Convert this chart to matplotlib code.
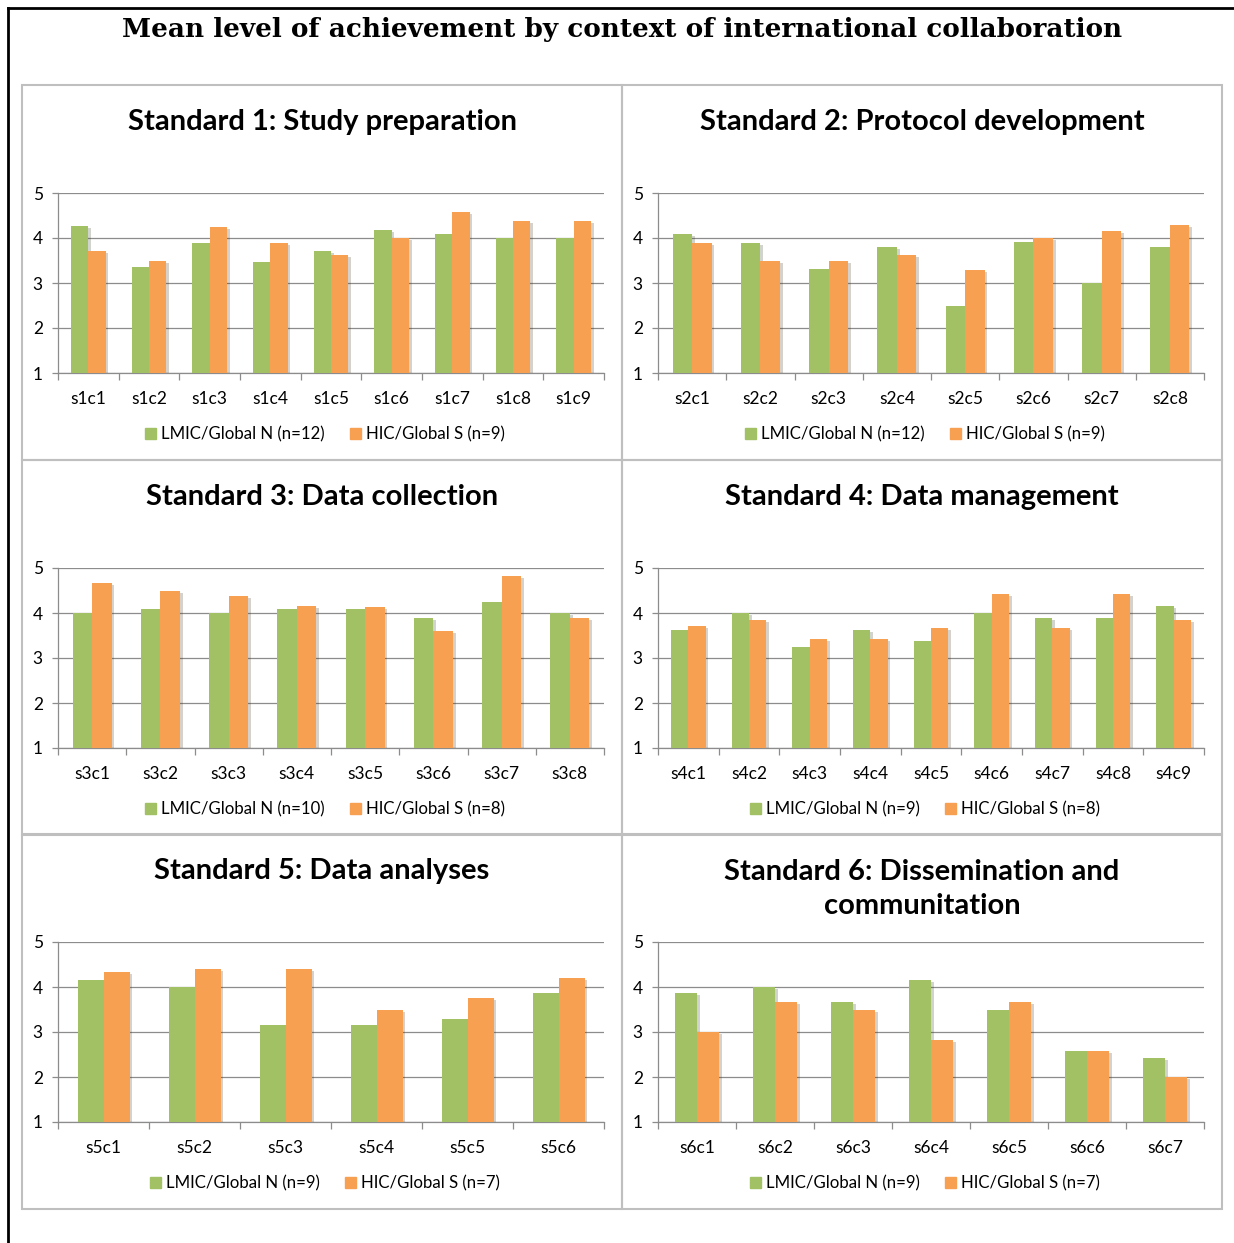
import matplotlib
matplotlib.use("Agg")
import matplotlib.pyplot as plt
import numpy as np
from matplotlib import patheffects
from matplotlib.lines import Line2D
from matplotlib.patches import Rectangle

# colours (Office 2007 palette, a touch lighter)
GREEN = '#A2C064'
ORANGE = '#F8A052'
GRID = '#8c8c8c'

main_title = 'Mean level of achievement by context of international collaboration'

titles = [
    'Standard 1: Study preparation',
    'Standard 2: Protocol development',
    'Standard 3: Data collection',
    'Standard 4: Data management',
    'Standard 5: Data analyses',
    'Standard 6: Dissemination and\ncommunitation',
]

cats_s1 = ['s1c1', 's1c2', 's1c3', 's1c4', 's1c5', 's1c6', 's1c7', 's1c8', 's1c9']
lmic_s1 = [4.27, 3.36, 3.90, 3.46, 3.72, 4.18, 4.09, 4.00, 4.00]
hic_s1 = [3.71, 3.50, 4.24, 3.88, 3.62, 4.00, 4.57, 4.37, 4.37]

cats_s2 = ['s2c1', 's2c2', 's2c3', 's2c4', 's2c5', 's2c6', 's2c7', 's2c8']
lmic_s2 = [4.10, 3.90, 3.31, 3.80, 2.50, 3.91, 3.01, 3.80]
hic_s2 = [3.89, 3.50, 3.50, 3.63, 3.30, 4.00, 4.15, 4.30]

cats_s3 = ['s3c1', 's3c2', 's3c3', 's3c4', 's3c5', 's3c6', 's3c7', 's3c8']
lmic_s3 = [4.00, 4.10, 4.00, 4.10, 4.10, 3.88, 4.25, 4.00]
hic_s3 = [4.67, 4.50, 4.375, 4.15, 4.13, 3.60, 4.83, 3.88]

cats_s4 = ['s4c1', 's4c2', 's4c3', 's4c4', 's4c5', 's4c6', 's4c7', 's4c8', 's4c9']
lmic_s4 = [3.63, 4.00, 3.25, 3.63, 3.37, 4.00, 3.88, 3.88, 4.15]
hic_s4 = [3.71, 3.84, 3.43, 3.43, 3.67, 4.43, 3.67, 4.43, 3.84]

cats_s5 = ['s5c1', 's5c2', 's5c3', 's5c4', 's5c5', 's5c6']
lmic_s5 = [4.16, 4.00, 3.16, 3.15, 3.29, 3.86]
hic_s5 = [4.34, 4.41, 4.41, 3.50, 3.75, 4.21]

cats_s6 = ['s6c1', 's6c2', 's6c3', 's6c4', 's6c5', 's6c6', 's6c7']
lmic_s6 = [3.86, 4.00, 3.67, 4.15, 3.49, 2.57, 2.43]
hic_s6 = [3.00, 3.67, 3.50, 2.83, 3.67, 2.58, 2.00]

n_lmic = [12, 12, 10, 9, 9, 9]
n_hic = [9, 9, 8, 8, 7, 7]

panels = [
    (cats_s1, lmic_s1, hic_s1),
    (cats_s2, lmic_s2, hic_s2),
    (cats_s3, lmic_s3, hic_s3),
    (cats_s4, lmic_s4, hic_s4),
    (cats_s5, lmic_s5, hic_s5),
    (cats_s6, lmic_s6, hic_s6),
]

W, H = 1234, 1243
fig = plt.figure(figsize=(W / 100, H / 100), dpi=100)
plt.rcParams['font.family'] = ['Lato', 'DejaVu Sans']


def fx(x):
    return x / W


def fy(y):
    return 1 - y / H


# outer frame (left and top only)
fig.add_artist(Line2D([fx(8), fx(8)], [fy(8), fy(H)], color='black', lw=2))
fig.add_artist(Line2D([fx(8), fx(W)], [fy(8), fy(8)], color='black', lw=2))

fig.text(fx(622), fy(29), main_title, ha='center', va='center',
         fontsize=18.9, fontweight='bold', family='DejaVu Serif')

col_left = [22, 622]
row_top = [85, 460, 834]
PW, PH = 600, 375

for i, (cats, lmic, hic) in enumerate(panels):
    px = col_left[i % 2]
    py = row_top[i // 2]

    # gray panel border
    fig.add_artist(Rectangle((fx(px), fy(py + PH)), PW / W, PH / H,
                             fill=False, edgecolor='#bfbfbf', lw=1.5))

    # title
    if '\n' in titles[i]:
        fig.text(fx(px + PW / 2), fy(py + 55), titles[i], ha='center', va='center',
                 fontsize=21, fontweight='bold', linespacing=1.42)
    else:
        fig.text(fx(px + PW / 2), fy(py + 37), titles[i], ha='center', va='center',
                 fontsize=21, fontweight='bold')

    ax = fig.add_axes([fx(px + 36), fy(py + 288), 546 / W, 180 / H])
    n = len(cats)
    x = np.arange(n)
    bw = 1 / 3.5
    shadow = [patheffects.SimplePatchShadow(offset=(2, -1.5), alpha=0.22), patheffects.Normal()]
    b1 = ax.bar(x - bw / 2, np.array(lmic) - 1, bw, bottom=1, color=GREEN, zorder=3)
    b2 = ax.bar(x + bw / 2, np.array(hic) - 1, bw, bottom=1, color=ORANGE, zorder=3)
    for p in list(b1) + list(b2):
        p.set_path_effects(shadow)

    ax.set_xlim(-0.5, n - 0.5)
    ax.set_ylim(1, 5)
    ax.set_yticks([1, 2, 3, 4, 5])
    ax.yaxis.grid(True, color=GRID, lw=0.9)
    ax.set_axisbelow(True)
    for s in ['top', 'right']:
        ax.spines[s].set_visible(False)
    for s in ['left', 'bottom']:
        ax.spines[s].set_color(GRID)
        ax.spines[s].set_linewidth(0.9)
    ax.set_xticks(np.arange(n + 1) - 0.5, minor=False)
    ax.set_xticklabels([])
    ax.set_xticks(x, minor=True)
    ax.set_xticklabels(cats, minor=True)
    ax.tick_params(axis='x', which='major', length=5, color=GRID, width=0.9)
    ax.tick_params(axis='x', which='minor', length=0, pad=13, labelsize=12.5)
    ax.tick_params(axis='y', length=4, color=GRID, width=0.9, labelsize=12.5, pad=7)

    handles = [Rectangle((0, 0), 1, 1, color=GREEN), Rectangle((0, 0), 1, 1, color=ORANGE)]
    fig.legend(handles, [f'LMIC/Global N (n={n_lmic[i]})', f'HIC/Global S (n={n_hic[i]})'],
               loc='center', bbox_to_anchor=(fx(px + PW / 2 + 3), fy(py + 349)),
               ncol=2, frameon=False, fontsize=12.1, handlelength=0.65,
               handleheight=0.65, handletextpad=0.3, columnspacing=1.5)

fig.savefig('out.png', dpi=100)
